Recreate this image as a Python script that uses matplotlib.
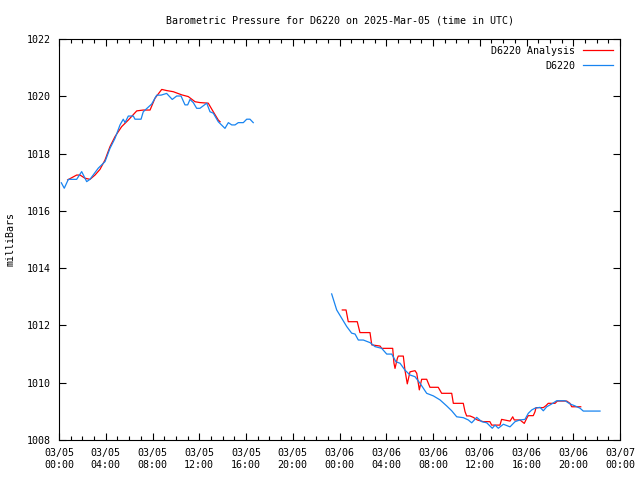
import numpy as np
import matplotlib
matplotlib.use("Agg")
import matplotlib.pyplot as plt

# hours since 2025-03-05 00:00 UTC, pressure in mb (nan = gap in data)
obs_hours = [0.20, 0.45, 0.80, 1.51, 1.94, 2.37, 2.65, 3.36, 3.94, 4.36, 4.79, 5.22, 5.50, 5.65,
             5.93, 6.36, 6.50, 7.02, 7.21, 7.93, 8.36, 8.73, 9.21, 9.69, 10.07, 10.44, 10.78,
             11.01, 11.21, 11.49, 11.78, 12.06, 12.64, 12.92, 13.20, 13.63, 14.20, 14.49, 14.78,
             15.06, 15.34, 15.77, 16.06, 16.34, 16.62,
             20.0,
             23.33, 23.76, 24.19, 24.62, 25.04, 25.33, 25.61, 26.04, 26.61, 27.04, 27.61, 28.04,
             28.47, 28.83, 29.18, 29.60, 30.03, 30.46, 30.89, 31.46, 32.03, 32.60, 33.17, 33.60,
             34.03, 34.59, 35.02, 35.31, 35.74, 36.17, 36.60, 37.07, 37.31, 37.59, 38.02, 38.59,
             39.02, 39.44, 39.87, 40.15, 40.45, 40.73, 41.16, 41.44, 41.73, 42.16, 42.58, 43.30,
             43.72, 44.15, 44.58, 44.86, 46.29]
obs_mb = [1016.98, 1016.79, 1017.10, 1017.10, 1017.37, 1017.02, 1017.10, 1017.49, 1017.72, 1018.18,
          1018.53, 1019.00, 1019.20, 1019.08, 1019.31, 1019.31, 1019.20, 1019.20, 1019.46, 1019.73,
          1020.04, 1020.04, 1020.10, 1019.89, 1020.01, 1020.01, 1019.70, 1019.70, 1019.89, 1019.78,
          1019.58, 1019.58, 1019.76, 1019.46, 1019.41, 1019.11, 1018.88, 1019.08, 1019.00, 1019.00,
          1019.08, 1019.08, 1019.20, 1019.20, 1019.08,
          np.nan,
          1013.10, 1012.54, 1012.25, 1011.96, 1011.73, 1011.70, 1011.49, 1011.49, 1011.40, 1011.26,
          1011.20, 1011.00, 1011.00, 1010.73, 1010.68, 1010.44, 1010.27, 1010.21, 1009.98, 1009.63,
          1009.54, 1009.40, 1009.19, 1009.02, 1008.81, 1008.78, 1008.70, 1008.60, 1008.79, 1008.64,
          1008.60, 1008.41, 1008.52, 1008.41, 1008.55, 1008.46, 1008.64, 1008.70, 1008.72, 1008.93,
          1009.05, 1009.11, 1009.14, 1009.02, 1009.16, 1009.26, 1009.37, 1009.37, 1009.26, 1009.19,
          1009.11, 1009.01, 1009.01]

ana_hours = [0.74, 1.51, 1.80, 2.22, 2.65, 3.08, 3.51, 3.94, 4.36, 4.79, 5.36, 5.93, 6.65, 7.21,
             7.79, 8.21, 8.79, 9.21, 9.78, 10.50, 11.06, 11.64, 12.06, 12.77, 13.20, 13.63, 13.78,
             20.0,
             24.24, 24.56, 24.75, 25.52, 25.75, 26.61, 26.76, 27.47, 27.61, 28.55, 28.66, 28.75,
             28.95, 29.03, 29.46, 29.60, 29.80, 30.03, 30.46, 30.61, 30.83, 31.03, 31.46, 31.74,
             32.45, 32.74, 33.60, 33.74, 34.59, 34.74, 34.88, 35.16, 35.45, 35.79, 36.30, 36.87,
             37.02, 37.73, 37.87, 38.59, 38.82, 38.95, 39.44, 39.81, 40.02, 40.15, 40.58, 40.73,
             40.81, 41.44, 41.67, 41.86, 42.44, 42.64, 43.44, 43.72, 43.87, 44.64]
ana_mb = [1017.08, 1017.25, 1017.25, 1017.14, 1017.10, 1017.25, 1017.45, 1017.78, 1018.24, 1018.59,
          1018.94, 1019.17, 1019.49, 1019.52, 1019.52, 1019.93, 1020.24, 1020.20, 1020.16, 1020.05,
          1019.99, 1019.81, 1019.78, 1019.76, 1019.46, 1019.17, 1019.11,
          np.nan,
          1012.54, 1012.54, 1012.13, 1012.13, 1011.75, 1011.75, 1011.32, 1011.28, 1011.20, 1011.20,
          1010.68, 1010.50, 1010.85, 1010.93, 1010.93, 1010.44, 1009.96, 1010.38, 1010.42, 1010.33,
          1009.75, 1010.12, 1010.12, 1009.84, 1009.84, 1009.63, 1009.63, 1009.28, 1009.28, 1008.99,
          1008.84, 1008.84, 1008.79, 1008.70, 1008.64, 1008.64, 1008.52, 1008.52, 1008.72, 1008.66,
          1008.81, 1008.70, 1008.70, 1008.58, 1008.76, 1008.85, 1008.85, 1008.99, 1009.13, 1009.13,
          1009.20, 1009.28, 1009.28, 1009.36, 1009.36, 1009.28, 1009.16, 1009.16]

tick_hours = list(range(0, 49, 4))
tick_labels = ["03/05\n00:00", "03/05\n04:00", "03/05\n08:00", "03/05\n12:00", "03/05\n16:00",
               "03/05\n20:00", "03/06\n00:00", "03/06\n04:00", "03/06\n08:00", "03/06\n12:00",
               "03/06\n16:00", "03/06\n20:00", "03/07\n00:00"]

plt.rcParams['font.family'] = 'DejaVu Sans Mono'
plt.rcParams['font.size'] = 7.2

fig = plt.figure(figsize=(6.4, 4.8), dpi=100)
ax = fig.add_axes([59 / 640, 40 / 480, 561 / 640, 401 / 480])

ax.plot(ana_hours, ana_mb, color='#ff0000', lw=0.9, label='D6220 Analysis')
ax.plot(obs_hours, obs_mb, color='#1884f0', lw=0.9, label='D6220')

ax.set_xlim(0, 48)
ax.set_ylim(1008, 1022)
ax.set_xticks(tick_hours)
ax.set_xticklabels(tick_labels)
ax.set_xticks(range(0, 49), minor=True)
ax.set_yticks(range(1008, 1023, 2))
ax.tick_params(which='both', direction='in', top=True, right=True, width=0.8)
ax.tick_params(which='major', length=5, pad=6)
ax.tick_params(which='minor', length=3)
for s in ax.spines.values():
    s.set_linewidth(0.8)

ax.set_ylabel('milliBars')
ax.yaxis.set_label_coords(-0.077, 0.5)
ax.set_title('Barometric Pressure for D6220 on 2025-Mar-05 (time in UTC)', fontsize=7.2, pad=11)
ax.legend(loc='upper right', frameon=False, markerfirst=False, handlelength=3,
          borderaxespad=0.3, labelspacing=0.5, handletextpad=0.8)

fig.savefig('out.png', dpi=100)
